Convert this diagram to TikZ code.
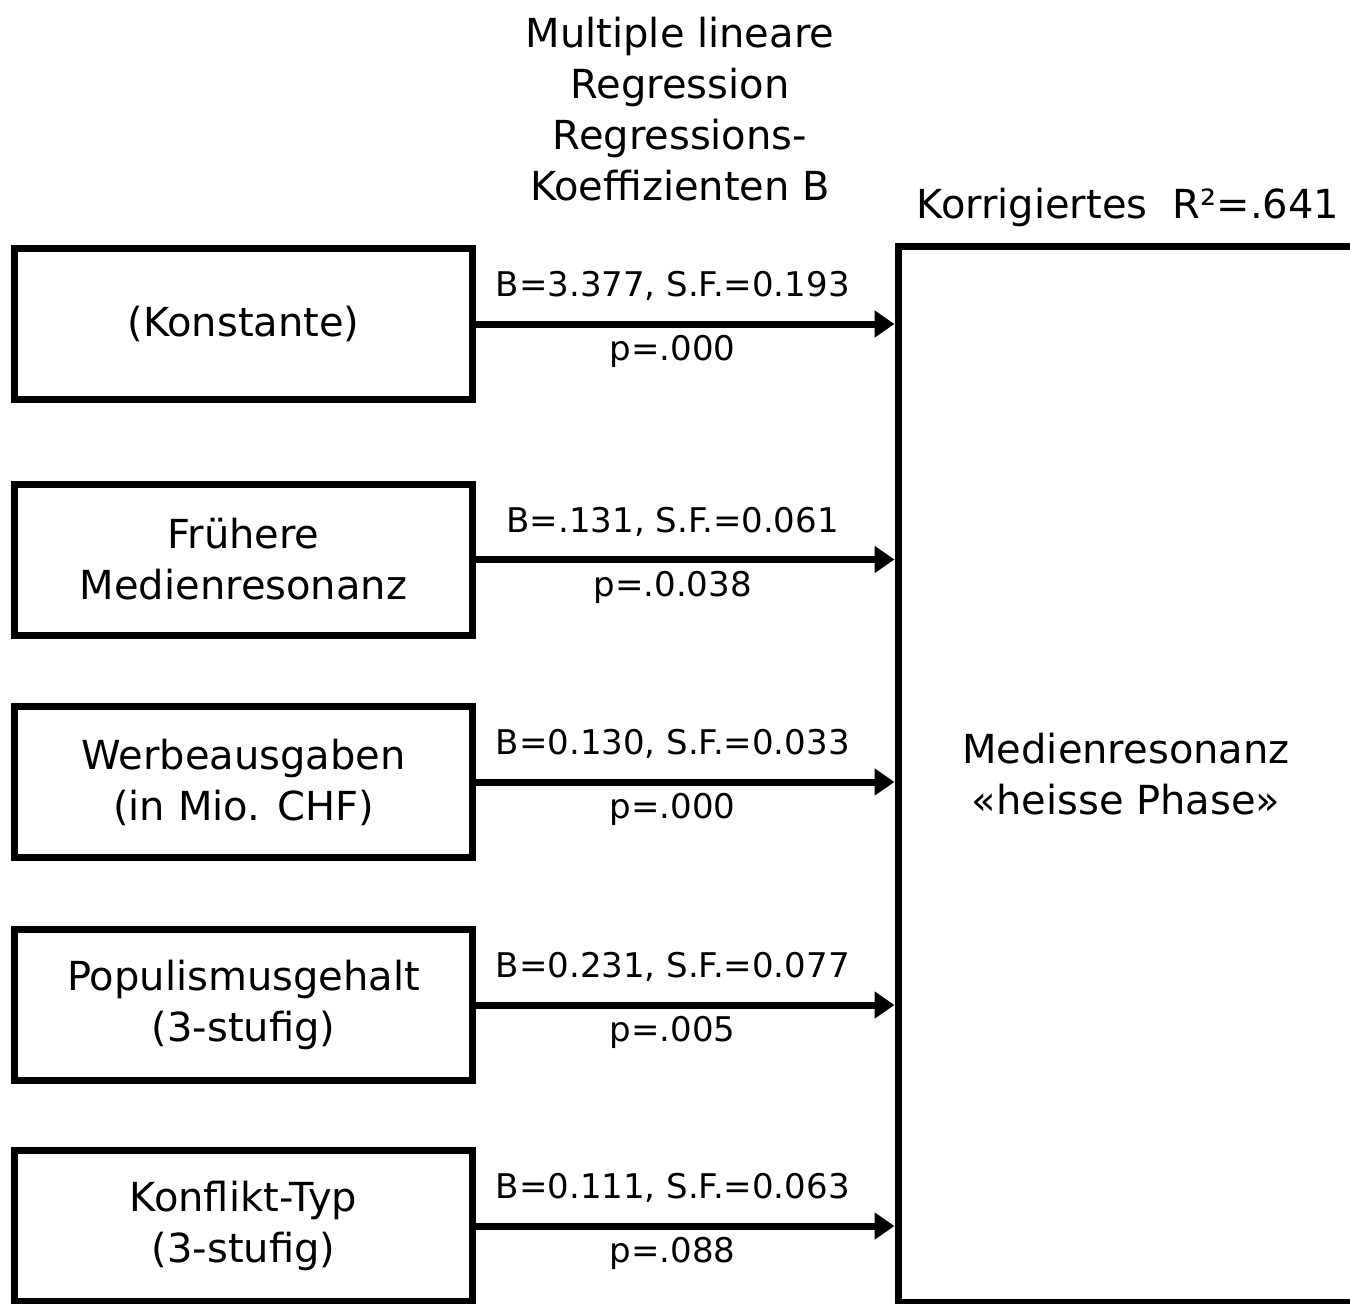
\documentclass[tikz,border=0pt]{standalone}
\usepackage{fontspec}
\setmainfont{DejaVu Sans}
\usetikzlibrary{arrows.meta}
\begin{document}
\begin{tikzpicture}[x=1pt,y=-1pt]
\tikzstyle{var} = [draw, line width=7pt, minimum width=458pt, minimum height=151pt, inner sep=0pt, align=center, font=\fontsize{40}{51}\selectfont];
\tikzstyle{fleche} = [line width=7pt, -{Triangle[length=20pt,width=26pt]}];
\tikzstyle{coef} = [font=\fontsize{34}{40}\selectfont, inner sep=0pt];
\clip (0,0) rectangle (1350,1304);
\node[align=center, font=\fontsize{40}{51}\selectfont] (titre) at (680,109) {Multiple lineare\\Regression\\Regressions-\\Koeffizienten B};
\node[font=\fontsize{40}{51}\selectfont] (r2) at (1128,207) {Korrigiertes\ \ R²=.641};
\node[var] (konst) at (243.5,324) {(Konstante)};
\node[var] (frueh) at (243.5,559.5) {Frühere\\Medienresonanz};
\node[var] (werbe) at (243.5,782) {Werbeausgaben\\(in Mio. CHF)};
\node[var] (popu) at (243.5,1005) {Populismusgehalt\\(3-stufig)};
\node[var] (konfl) at (243.5,1226) {Konflikt-Typ\\(3-stufig)};
\node[var, minimum width=456pt, minimum height=1056pt] (reso) at (1126,774.5) {Medienresonanz\\«heisse Phase»};
\draw[fleche] (konst.east) -- (konst.east -| reso.west) node[coef, pos=0.47, above=20pt] {B=3.377, S.F.=0.193} node[coef, pos=0.47, below=8pt] {p=.000};
\draw[fleche] (frueh.east) -- (frueh.east -| reso.west) node[coef, pos=0.47, above=20pt] {B=.131, S.F.=0.061} node[coef, pos=0.47, below=8pt] {p=.0.038};
\draw[fleche] (werbe.east) -- (werbe.east -| reso.west) node[coef, pos=0.47, above=20pt] {B=0.130, S.F.=0.033} node[coef, pos=0.47, below=8pt] {p=.000};
\draw[fleche] (popu.east) -- (popu.east -| reso.west) node[coef, pos=0.47, above=20pt] {B=0.231, S.F.=0.077} node[coef, pos=0.47, below=8pt] {p=.005};
\draw[fleche] (konfl.east) -- (konfl.east -| reso.west) node[coef, pos=0.47, above=20pt] {B=0.111, S.F.=0.063} node[coef, pos=0.47, below=8pt] {p=.088};
\end{tikzpicture}
\end{document}
